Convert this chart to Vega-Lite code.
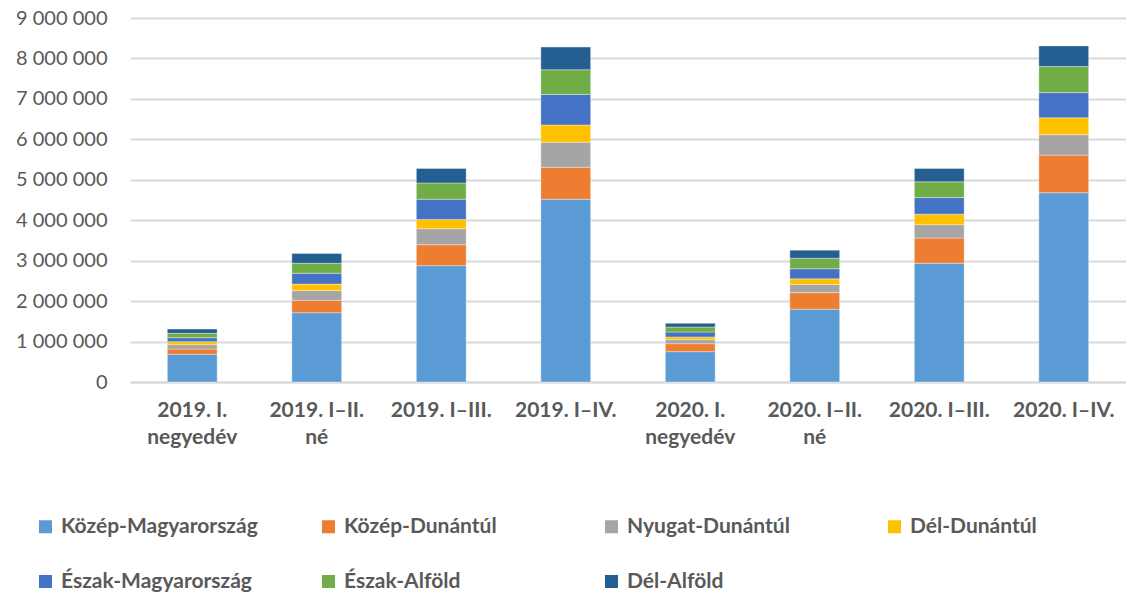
{
  "$schema": "https://vega.github.io/schema/vega-lite/v6.json",
  "width": 996,
  "height": 364,
  "autosize": {"type": "none"},
  "padding": {"left": 130, "top": 18, "right": 0, "bottom": 213},
  "background": "white",
  "config": {
    "font": "Lato",
    "view": {"stroke": null}
  },
  "data": {
    "values": [
      {"idoszak": "2019. I. negyedév", "regio": "Közép-Magyarország", "ertek": 685000},
      {"idoszak": "2019. I. negyedév", "regio": "Közép-Dunántúl", "ertek": 131000},
      {"idoszak": "2019. I. negyedév", "regio": "Nyugat-Dunántúl", "ertek": 106000},
      {"idoszak": "2019. I. negyedév", "regio": "Dél-Dunántúl", "ertek": 75000},
      {"idoszak": "2019. I. negyedév", "regio": "Észak-Magyarország", "ertek": 98000},
      {"idoszak": "2019. I. negyedév", "regio": "Észak-Alföld", "ertek": 109000},
      {"idoszak": "2019. I. negyedév", "regio": "Dél-Alföld", "ertek": 106000},
      {"idoszak": "2019. I–II. né", "regio": "Közép-Magyarország", "ertek": 1714000},
      {"idoszak": "2019. I–II. né", "regio": "Közép-Dunántúl", "ertek": 306000},
      {"idoszak": "2019. I–II. né", "regio": "Nyugat-Dunántúl", "ertek": 240000},
      {"idoszak": "2019. I–II. né", "regio": "Dél-Dunántúl", "ertek": 160000},
      {"idoszak": "2019. I–II. né", "regio": "Észak-Magyarország", "ertek": 270000},
      {"idoszak": "2019. I–II. né", "regio": "Észak-Alföld", "ertek": 245000},
      {"idoszak": "2019. I–II. né", "regio": "Dél-Alföld", "ertek": 245000},
      {"idoszak": "2019. I–III.", "regio": "Közép-Magyarország", "ertek": 2876000},
      {"idoszak": "2019. I–III.", "regio": "Közép-Dunántúl", "ertek": 519000},
      {"idoszak": "2019. I–III.", "regio": "Nyugat-Dunántúl", "ertek": 395000},
      {"idoszak": "2019. I–III.", "regio": "Dél-Dunántúl", "ertek": 230000},
      {"idoszak": "2019. I–III.", "regio": "Észak-Magyarország", "ertek": 500000},
      {"idoszak": "2019. I–III.", "regio": "Észak-Alföld", "ertek": 400000},
      {"idoszak": "2019. I–III.", "regio": "Dél-Alföld", "ertek": 360000},
      {"idoszak": "2019. I–IV.", "regio": "Közép-Magyarország", "ertek": 4520000},
      {"idoszak": "2019. I–IV.", "regio": "Közép-Dunántúl", "ertek": 790000},
      {"idoszak": "2019. I–IV.", "regio": "Nyugat-Dunántúl", "ertek": 620000},
      {"idoszak": "2019. I–IV.", "regio": "Dél-Dunántúl", "ertek": 425000},
      {"idoszak": "2019. I–IV.", "regio": "Észak-Magyarország", "ertek": 755000},
      {"idoszak": "2019. I–IV.", "regio": "Észak-Alföld", "ertek": 610000},
      {"idoszak": "2019. I–IV.", "regio": "Dél-Alföld", "ertek": 560000},
      {"idoszak": "2020. I. negyedév", "regio": "Közép-Magyarország", "ertek": 750000},
      {"idoszak": "2020. I. negyedév", "regio": "Közép-Dunántúl", "ertek": 197000},
      {"idoszak": "2020. I. negyedév", "regio": "Nyugat-Dunántúl", "ertek": 99000},
      {"idoszak": "2020. I. negyedév", "regio": "Dél-Dunántúl", "ertek": 67000},
      {"idoszak": "2020. I. negyedév", "regio": "Észak-Magyarország", "ertek": 123000},
      {"idoszak": "2020. I. negyedév", "regio": "Észak-Alföld", "ertek": 124000},
      {"idoszak": "2020. I. negyedév", "regio": "Dél-Alföld", "ertek": 90000},
      {"idoszak": "2020. I–II. né", "regio": "Közép-Magyarország", "ertek": 1800000},
      {"idoszak": "2020. I–II. né", "regio": "Közép-Dunántúl", "ertek": 410000},
      {"idoszak": "2020. I–II. né", "regio": "Nyugat-Dunántúl", "ertek": 200000},
      {"idoszak": "2020. I–II. né", "regio": "Dél-Dunántúl", "ertek": 140000},
      {"idoszak": "2020. I–II. né", "regio": "Észak-Magyarország", "ertek": 250000},
      {"idoszak": "2020. I–II. né", "regio": "Észak-Alföld", "ertek": 260000},
      {"idoszak": "2020. I–II. né", "regio": "Dél-Alföld", "ertek": 200000},
      {"idoszak": "2020. I–III.", "regio": "Közép-Magyarország", "ertek": 2935000},
      {"idoszak": "2020. I–III.", "regio": "Közép-Dunántúl", "ertek": 625000},
      {"idoszak": "2020. I–III.", "regio": "Nyugat-Dunántúl", "ertek": 330000},
      {"idoszak": "2020. I–III.", "regio": "Dél-Dunántúl", "ertek": 260000},
      {"idoszak": "2020. I–III.", "regio": "Észak-Magyarország", "ertek": 410000},
      {"idoszak": "2020. I–III.", "regio": "Észak-Alföld", "ertek": 390000},
      {"idoszak": "2020. I–III.", "regio": "Dél-Alföld", "ertek": 330000},
      {"idoszak": "2020. I–IV.", "regio": "Közép-Magyarország", "ertek": 4680000},
      {"idoszak": "2020. I–IV.", "regio": "Közép-Dunántúl", "ertek": 930000},
      {"idoszak": "2020. I–IV.", "regio": "Nyugat-Dunántúl", "ertek": 505000},
      {"idoszak": "2020. I–IV.", "regio": "Dél-Dunántúl", "ertek": 420000},
      {"idoszak": "2020. I–IV.", "regio": "Észak-Magyarország", "ertek": 620000},
      {"idoszak": "2020. I–IV.", "regio": "Észak-Alföld", "ertek": 645000},
      {"idoszak": "2020. I–IV.", "regio": "Dél-Alföld", "ertek": 510000}
    ]
  },
  "transform": [
    {"calculate": "indexof(['Közép-Magyarország', 'Közép-Dunántúl', 'Nyugat-Dunántúl', 'Dél-Dunántúl', 'Észak-Magyarország', 'Észak-Alföld', 'Dél-Alföld'], datum.regio)", "as": "rend"}
  ],
  "mark": {"type": "bar", "stroke": "white", "strokeWidth": 0.6, "strokeOpacity": 0.6},
  "encoding": {
    "x": {
      "field": "idoszak",
      "type": "nominal",
      "sort": null,
      "scale": {"paddingInner": 0.6, "paddingOuter": 0.3},
      "axis": {
        "title": null,
        "labelAngle": 0,
        "labelFontSize": 21,
        "labelFontWeight": "bold",
        "labelColor": "#595959",
        "labelPadding": 17,
        "labelLineHeight": 27,
        "labelExpr": "indexof(datum.label, ' negyedév') > 0 ? [replace(datum.label, ' negyedév', ''), 'negyedév'] : (indexof(datum.label, ' né') > 0 ? [replace(datum.label, ' né', ''), 'né'] : datum.label)",
        "ticks": false,
        "domainColor": "#d9d9d9",
        "domainWidth": 2,
        "grid": false
      }
    },
    "y": {
      "field": "ertek",
      "type": "quantitative",
      "stack": "zero",
      "scale": {"domain": [0, 9000000], "nice": false},
      "axis": {
        "title": null,
        "values": [0, 1000000, 2000000, 3000000, 4000000, 5000000, 6000000, 7000000, 8000000, 9000000],
        "labelExpr": "replace(format(datum.value, ','), /,/g, ' ')",
        "labelFontSize": 20,
        "labelColor": "#595959",
        "labelPadding": 23,
        "ticks": false,
        "domain": false,
        "gridColor": "#d9d9d9",
        "gridWidth": 2
      }
    },
    "color": {
      "field": "regio",
      "type": "nominal",
      "sort": ["Közép-Magyarország", "Közép-Dunántúl", "Nyugat-Dunántúl", "Dél-Dunántúl", "Észak-Magyarország", "Észak-Alföld", "Dél-Alföld"],
      "scale": {
        "domain": ["Közép-Magyarország", "Közép-Dunántúl", "Nyugat-Dunántúl", "Dél-Dunántúl", "Észak-Magyarország", "Észak-Alföld", "Dél-Alföld"],
        "range": ["#5B9BD5", "#ED7D31", "#A5A5A5", "#FFC000", "#4472C4", "#70AD47", "#255E91"]
      },
      "legend": {
        "title": null,
        "orient": "none",
        "legendX": -95,
        "legendY": 498,
        "direction": "horizontal",
        "columns": 4,
        "gridAlign": "all",
        "columnPadding": 60,
        "rowPadding": 33,
        "padding": 0,
        "symbolType": "square",
        "symbolSize": 169,
        "symbolStrokeWidth": 0,
        "labelFontSize": 21,
        "labelFontWeight": "bold",
        "labelColor": "#595959",
        "labelOffset": 5,
        "labelLimit": 400
      }
    },
    "order": {"field": "rend", "type": "quantitative", "sort": "ascending"}
  }
}
